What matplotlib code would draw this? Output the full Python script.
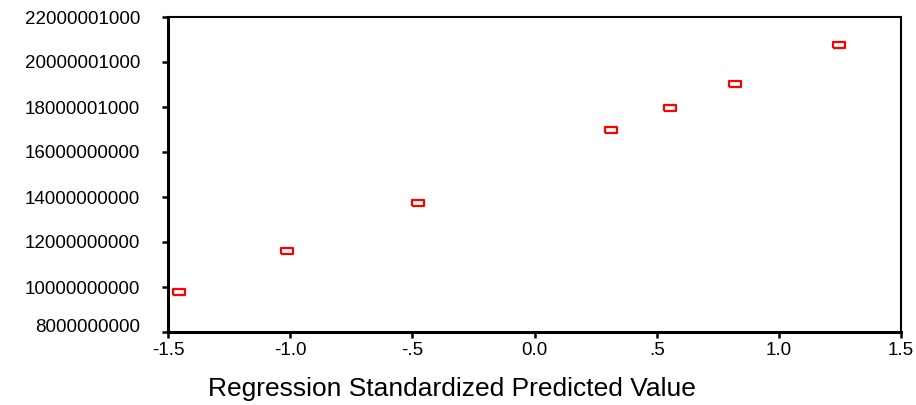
import matplotlib.pyplot as plt
from matplotlib.ticker import FixedLocator
import matplotlib.transforms as mtransforms

# standardized predicted value vs dependent variable
predicted = [-1.455, -1.012, -0.478, 0.315, 0.555, 0.821, 1.248]
observed = [9.78e9, 11.59e9, 13.73e9, 16.98e9, 17.96e9, 19.04e9, 20.77e9]

x_ticks = [-1.5, -1.0, -0.5, 0.0, 0.5, 1.0, 1.5]
x_labels = ['-1.5', '-1.0', '-.5', '0.0', '.5', '1.0', '1.5']
y_ticks = [8e9, 10e9, 12e9, 14e9, 16e9, 18e9, 20e9, 22e9]
y_labels = ['8000000000', '10000000000', '12000000000', '14000000000',
            '16000000000', '18000001000', '20000001000', '22000001000']

plt.rcParams['font.family'] = ['Liberation Sans', 'DejaVu Sans']

fig = plt.figure(figsize=(9.16, 4.05), dpi=100)
ax = fig.add_axes([168 / 916, 1 - 332 / 405, 733 / 916, 315 / 405])

# wide hollow rectangle marker like SPSS
rect = [(-1.6, -1), (1.6, -1), (1.6, 1), (-1.6, 1), (-1.6, -1)]
ax.plot(predicted, observed, linestyle='none', marker=rect, markersize=8,
        markerfacecolor='white', markeredgecolor='#ff0000', markeredgewidth=1.6)

ax.set_xlim(-1.5, 1.5)
ax.set_ylim(8e9, 22e9)
ax.xaxis.set_major_locator(FixedLocator(x_ticks))
ax.yaxis.set_major_locator(FixedLocator(y_ticks))
ax.set_xticklabels(x_labels)
ax.set_yticklabels(y_labels)

ax.tick_params(axis='both', direction='out', length=4, width=1.8, labelsize=13.5)
ax.tick_params(axis='y', pad=16)
ax.tick_params(axis='x', pad=3)
ax.tick_params(top=False, right=False)

for side in ['left', 'bottom']:
    ax.spines[side].set_linewidth(2.2)
for side in ['top', 'right']:
    ax.spines[side].set_linewidth(1.5)

# lowest label sits a bit higher in the original
low = ax.get_yticklabels()[0]
low.set_transform(low.get_transform() + mtransforms.ScaledTranslation(0, 7 / 100, fig.dpi_scale_trans))

ax.set_xlabel('Regression Standardized Predicted Value', fontsize=19, va='baseline')
ax.xaxis.set_label_coords((452 - 168) / 733, (332 - 396) / 315)

fig.savefig('out.png', dpi=100)
